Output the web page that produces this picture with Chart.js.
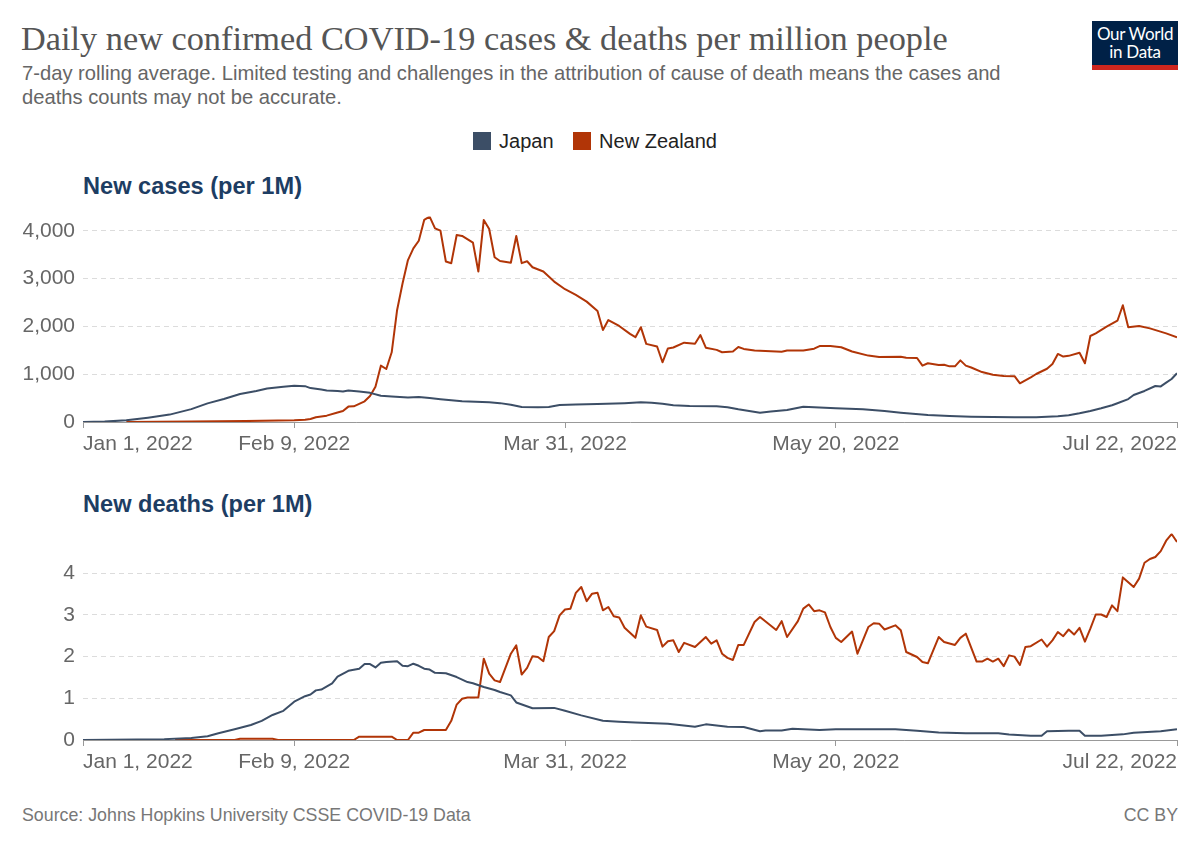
<!DOCTYPE html>
<html>
<head>
<meta charset="utf-8">
<title>Daily new confirmed COVID-19 cases & deaths per million people</title>
<script src="https://cdn.jsdelivr.net/npm/chart.js@4.4.1/dist/chart.umd.min.js"></script>
<style>
  html, body { margin: 0; padding: 0; background: #fff; }
  body { width: 1200px; height: 847px; position: relative; overflow: hidden; font-family: "Liberation Sans", Arial, sans-serif; }
  .abs { position: absolute; white-space: nowrap; }
  #title { left: 21px; top: 19px; font-family: "Liberation Serif", "Times New Roman", serif; font-size: 34.3px; color: #555; }
  #subtitle { left: 22px; top: 61px; font-size: 20.2px; line-height: 24px; color: #666; white-space: normal; width: 1000px; }
  #logo { left: 1092px; top: 21px; width: 86px; height: 49px; background: #002147; border-bottom: 5px solid #ce261e; box-sizing: border-box;
          color: #fff; font-family: Lato, "Liberation Sans", sans-serif; font-size: 17px; line-height: 18px; text-align: center; padding-top: 4px; letter-spacing: -0.3px; }
  #legend { left: 0; width: 1190px; top: 130px; text-align: center; font-size: 20px; color: #222; }
  .item { display: inline-block; margin: 0 7px; }
  .swatch { display: inline-block; width: 18px; height: 18px; vertical-align: -2px; margin-right: 8px; }
  .panel-title { left: 83px; font-size: 23.6px; font-weight: bold; color: #1d3d63; }
  #footer-left { left: 22px; top: 805px; font-size: 17.8px; color: #777; }
  #footer-right { right: 22px; top: 805px; font-size: 17.8px; color: #777; }
  canvas { position: absolute; left: 0; }
</style>
</head>
<body>
<div id="title" class="abs">Daily new confirmed COVID-19 cases &amp; deaths per million people</div>
<div id="subtitle" class="abs">7-day rolling average. Limited testing and challenges in the attribution of cause of death means the cases and deaths counts may not be accurate.</div>
<div id="logo" class="abs">Our World<br>in Data</div>
<div id="legend" class="abs">
  <span class="item"><span class="swatch" style="background:#3c4e66"></span>Japan</span>
  <span class="item"><span class="swatch" style="background:#b13507"></span>New Zealand</span>
</div>
<div class="abs panel-title" style="top:173px">New cases (per 1M)</div>
<canvas id="casesChart" width="1200" height="260" style="top:196px;width:1200px;height:260px"></canvas>
<div class="abs panel-title" style="top:491px">New deaths (per 1M)</div>
<canvas id="deathsChart" width="1200" height="261" style="top:513px;width:1200px;height:261px"></canvas>
<div id="footer-left" class="abs">Source: Johns Hopkins University CSSE COVID-19 Data</div>
<div id="footer-right" class="abs">CC BY</div>

<script>
// Days counted from Jan 1, 2022
const tickDays = [0, 39, 89, 139, 202];
const tickLabels = ['Jan 1, 2022', 'Feb 9, 2022', 'Mar 31, 2022', 'May 20, 2022', 'Jul 22, 2022'];

const casesTicks = [0, 1000, 2000, 3000, 4000];
const deathsTicks = [0, 1, 2, 3, 4];

// New cases per million - Japan
const japanCasesDays = [0, 4, 8, 12, 16, 20, 23, 26, 29, 32, 34, 37, 39, 41, 42, 44, 45, 47, 48, 49, 51, 53, 55, 57, 60, 62, 64, 66, 70, 75, 77, 79, 81, 84, 86, 88, 91, 95, 100, 103, 105, 107, 109, 112, 117, 119, 121, 123, 125, 127, 130, 133, 136, 139, 144, 148, 151, 156, 160, 164, 168, 172, 176, 180, 182, 184, 186, 188, 190, 191, 193, 194, 196, 198, 199, 200, 201, 202];
const japanCases = [0, 8, 35, 90, 155, 270, 390, 480, 585, 650, 700, 740, 760, 750, 710, 680, 660, 650, 640, 660, 640, 610, 550, 535, 515, 525, 500, 478, 433, 412, 395, 362, 314, 310, 316, 356, 365, 377, 395, 412, 405, 380, 350, 335, 328, 310, 265, 230, 195, 220, 250, 320, 305, 287, 265, 230, 195, 147, 125, 112, 105, 98, 100, 120, 140, 182, 230, 287, 350, 392, 480, 565, 650, 754, 745, 823, 900, 1020];

// New cases per million - New Zealand
const nzCasesDays = [8, 20, 30, 39, 41, 42, 43, 45, 47, 48, 49, 50, 52, 53, 54, 55, 56, 57, 58, 59, 60, 61, 62, 63, 64, 65, 66, 67, 68, 69, 70, 72, 73, 74, 75, 76, 77, 79, 80, 81, 82, 83, 85, 87, 89, 91, 93, 95, 96, 97, 99, 101, 102, 103, 104, 106, 107, 108, 109, 111, 113, 114, 115, 117, 118, 120, 121, 122, 124, 127, 129, 130, 133, 135, 136, 138, 140, 142, 145, 147, 151, 152, 154, 155, 156, 158, 159, 160, 161, 162, 163, 164, 166, 168, 170, 172, 173, 175, 176, 178, 179, 180, 181, 182, 184, 185, 186, 187, 189, 191, 192, 193, 195, 197, 200, 202];
const nzCases = [2, 10, 20, 35, 45, 63, 98, 133, 200, 230, 322, 329, 433, 545, 740, 1180, 1110, 1460, 2345, 2900, 3390, 3635, 3795, 4230, 4300, 4055, 4005, 3360, 3325, 3915, 3895, 3755, 3150, 4230, 4040, 3450, 3370, 3335, 3895, 3325, 3365, 3240, 3150, 2940, 2780, 2660, 2520, 2325, 1925, 2135, 2010, 1845, 1775, 1985, 1635, 1580, 1250, 1540, 1560, 1660, 1640, 1820, 1555, 1510, 1460, 1475, 1570, 1530, 1495, 1480, 1470, 1495, 1495, 1535, 1590, 1590, 1565, 1475, 1390, 1360, 1365, 1345, 1340, 1180, 1230, 1195, 1200, 1165, 1165, 1290, 1180, 1140, 1045, 990, 965, 960, 810, 935, 1005, 1115, 1215, 1425, 1370, 1385, 1450, 1230, 1800, 1855, 1995, 2120, 2445, 1985, 2010, 1960, 1855, 1775];

// New deaths per million - Japan
const japanDeathsDays = [0, 10, 15, 20, 23, 25, 28, 31, 33, 35, 37, 39, 41, 42, 43, 44, 46, 47, 49, 51, 52, 53, 54, 55, 56, 58, 59, 60, 61, 62, 63, 64, 65, 67, 69, 71, 72, 74, 76, 77, 79, 80, 83, 87, 89, 92, 96, 99, 102, 108, 113, 115, 119, 122, 125, 126, 129, 131, 133, 136, 139, 150, 154, 158, 163, 169, 171, 175, 177, 178, 182, 184, 185, 188, 192, 194, 199, 202];
const japanDeaths = [0, 0.01, 0.02, 0.05, 0.09, 0.16, 0.26, 0.36, 0.46, 0.6, 0.7, 0.92, 1.05, 1.09, 1.19, 1.21, 1.36, 1.52, 1.66, 1.71, 1.82, 1.82, 1.74, 1.85, 1.87, 1.89, 1.78, 1.77, 1.83, 1.78, 1.71, 1.69, 1.61, 1.6, 1.51, 1.39, 1.36, 1.27, 1.2, 1.15, 1.07, 0.9, 0.76, 0.77, 0.7, 0.59, 0.46, 0.44, 0.42, 0.39, 0.32, 0.375, 0.32, 0.31, 0.21, 0.23, 0.23, 0.27, 0.26, 0.24, 0.26, 0.26, 0.22, 0.18, 0.16, 0.16, 0.13, 0.1, 0.1, 0.21, 0.22, 0.22, 0.1, 0.1, 0.135, 0.175, 0.21, 0.26];

// New deaths per million - New Zealand
const nzDeathsDays = [17, 28, 29, 35, 36, 50, 51, 57, 58, 60, 61, 62, 63, 67, 68, 69, 70, 71, 73, 74, 75, 76, 77, 79, 80, 81, 82, 83, 84, 85, 86, 87, 88, 89, 90, 91, 92, 93, 94, 95, 96, 97, 98, 99, 100, 102, 103, 104, 106, 107, 108, 109, 110, 111, 113, 115, 116, 117, 118, 119, 120, 121, 122, 124, 125, 128, 129, 130, 132, 133, 134, 135, 136, 137, 138, 139, 140, 142, 143, 144, 145, 146, 147, 148, 150, 151, 152, 154, 155, 156, 158, 159, 161, 162, 163, 165, 166, 167, 168, 169, 170, 171, 172, 173, 174, 175, 177, 178, 179, 180, 181, 182, 183, 184, 185, 186, 187, 188, 189, 190, 191, 192, 194, 195, 196, 197, 198, 199, 200, 201, 202];
const nzDeaths = [0, 0, 0.03, 0.03, 0, 0, 0.08, 0.08, 0, 0, 0.175, 0.175, 0.24, 0.24, 0.46, 0.85, 0.99, 1.02, 1.02, 1.95, 1.59, 1.43, 1.39, 2.07, 2.27, 1.57, 1.73, 2.01, 1.99, 1.89, 2.47, 2.61, 2.99, 3.13, 3.15, 3.53, 3.67, 3.33, 3.51, 3.53, 3.11, 3.19, 2.97, 2.94, 2.69, 2.45, 2.99, 2.72, 2.64, 2.24, 2.37, 2.39, 2.11, 2.33, 2.23, 2.47, 2.31, 2.39, 2.07, 1.97, 1.92, 2.28, 2.28, 2.83, 2.95, 2.64, 2.85, 2.47, 2.85, 3.15, 3.25, 3.09, 3.11, 3.06, 2.71, 2.45, 2.35, 2.6, 2.07, 2.39, 2.71, 2.8, 2.79, 2.65, 2.75, 2.63, 2.11, 1.99, 1.87, 1.84, 2.47, 2.35, 2.28, 2.45, 2.55, 1.88, 1.88, 1.95, 1.88, 1.95, 1.77, 2.03, 2.0, 1.8, 2.23, 2.25, 2.41, 2.24, 2.39, 2.59, 2.49, 2.65, 2.53, 2.69, 2.36, 2.67, 3.01, 3.01, 2.95, 3.23, 3.09, 3.9, 3.67, 3.87, 4.25, 4.34, 4.39, 4.53, 4.78, 4.94, 4.75];

const JAPAN_COLOR = '#3c4e66';
const NZ_COLOR = '#b13507';
const TICK_FONT = { family: '"Liberation Sans", Arial, sans-serif', size: 21 };

function toPoints(days, values) {
  return days.map((d, i) => ({ x: d, y: values[i] }));
}

function series(label, days, values, color) {
  return {
    label: label,
    data: toPoints(days, values),
    borderColor: color,
    backgroundColor: color,
    borderWidth: 2,
    pointRadius: 0,
    tension: 0,
    borderJoinStyle: 'round'
  };
}

function buildChart(canvasId, datasets, yMax, yTicks, formatY) {
  const ctx = document.getElementById(canvasId).getContext('2d');
  return new Chart(ctx, {
    type: 'line',
    data: { datasets: datasets },
    options: {
      responsive: false,
      animation: false,
      layout: { padding: { left: 0, right: 23, top: 0, bottom: 0 } },
      plugins: { legend: { display: false }, tooltip: { enabled: false } },
      scales: {
        x: {
          type: 'linear',
          min: 0,
          max: 202,
          afterBuildTicks: (scale) => { scale.ticks = tickDays.map(v => ({ value: v })); },
          afterFit: (scale) => { scale.height = 34; },
          ticks: {
            autoSkip: false,
            maxRotation: 0,
            align: 'inner',
            padding: 4,
            color: '#666',
            font: TICK_FONT,
            callback: (value) => tickLabels[tickDays.indexOf(value)]
          },
          grid: { drawOnChartArea: false, drawTicks: true, tickLength: 6, color: '#999' },
          border: { display: true, color: '#999', width: 1 }
        },
        y: {
          min: 0,
          max: yMax,
          afterBuildTicks: (scale) => { scale.ticks = yTicks.map(v => ({ value: v })); },
          afterFit: (scale) => { scale.width = 83; },
          ticks: {
            padding: 8,
            color: '#666',
            font: TICK_FONT,
            callback: formatY
          },
          grid: { color: '#dcdcdc', drawTicks: false, lineWidth: 1 },
          border: { display: false, dash: [5, 4] }
        }
      }
    }
  });
}

buildChart('casesChart', [
  series('Japan', japanCasesDays, japanCases, JAPAN_COLOR),
  series('New Zealand', nzCasesDays, nzCases, NZ_COLOR)
], 4300, casesTicks, (v) => v.toLocaleString('en-US'));

buildChart('deathsChart', [
  series('Japan', japanDeathsDays, japanDeaths, JAPAN_COLOR),
  series('New Zealand', nzDeathsDays, nzDeaths, NZ_COLOR)
], 4.95, deathsTicks, (v) => String(v));
</script>
</body>
</html>
